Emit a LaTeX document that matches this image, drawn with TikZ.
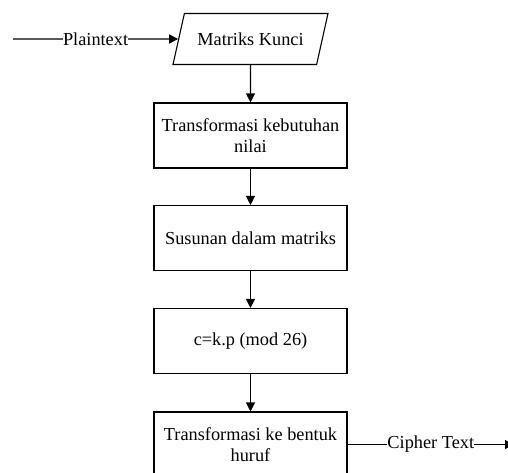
\documentclass[tikz,border=0pt]{standalone}
\usepackage{fontspec}
\setmainfont{Liberation Serif}
\usetikzlibrary{shapes.geometric,arrows.meta}
\tikzset{
  proses/.style={draw, rectangle, minimum width=193pt, minimum height=65pt, align=center, inner sep=2pt},
  kunci/.style={draw, trapezium, trapezium left angle=56, trapezium right angle=124,
    trapezium stretches body, minimum width=155pt, minimum height=51pt, inner sep=2pt},
  ket/.style={fill=white, inner xsep=0pt, inner ysep=1pt}
}
\begin{document}
\begin{tikzpicture}[x=1pt, y=-1pt, line width=1.1pt, >={Triangle[length=9pt,width=9pt]},
  font=\fontsize{18.3}{21}\selectfont]
  \useasboundingbox (0,0) rectangle (508,472);
  \node[kunci] (kunci) at (250.5, 39){Matriks Kunci};
  \node[proses] (nilai) at (250.5, 135.5){Transformasi kebutuhan\\nilai};
  \node[proses] (susun) at (250.5, 238){Susunan dalam matriks};
  \node[proses] (rumus) at (250.5, 341){c=k.p (mod 26)};
  \node[proses] (huruf) at (250.5, 444.5){Transformasi ke bentuk\\huruf};
  \coordinate (awal) at (13, 39);
  \coordinate (akhir) at (514, 444.5);
  \draw[->] (awal) -- node[ket]{Plaintext} (kunci);
  \draw[->] (kunci) -- (nilai);
  \draw[->] (nilai) -- (susun);
  \draw[->] (susun) -- (rumus);
  \draw[->] (rumus) -- (huruf);
  \draw[->] (huruf) -- node[ket]{Cipher Text} (akhir);
\end{tikzpicture}
\end{document}
